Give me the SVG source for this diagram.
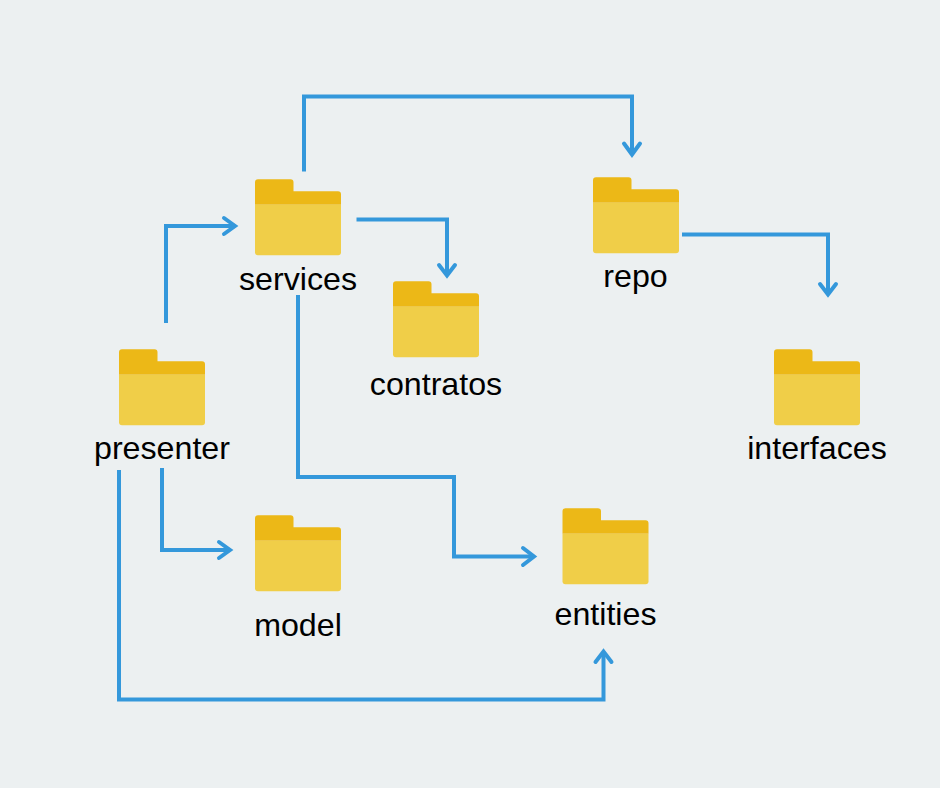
<svg xmlns="http://www.w3.org/2000/svg" width="940" height="788" viewBox="0 0 940 788">
<style>
.t{font-family:"Liberation Sans",Arial,sans-serif;font-size:32.200px;fill:#000;text-anchor:middle}
.c{fill:none;stroke:#3498db;stroke-width:4;stroke-linejoin:miter}
.h{fill:none;stroke:#3498db;stroke-width:4;stroke-linecap:round;stroke-linejoin:miter}
</style>
<defs>
<g id="folder">
<path d="M0 25.500V3Q0 0 3 0H35.500Q38.500 0 38.500 3V12H83Q86 12 86 15V25.500Z" fill="#ecb817"/>
<path d="M0 25.500H86V73Q86 76 83 76H3Q0 76 0 73Z" fill="#f0ce48"/>
</g>
</defs>
<rect width="940" height="788" fill="#ecf0f1"/>
<g id="connectors">
<path class="c" d="M166 323V226H233"/><path class="h" d="M224 218L235 226L224 234"/>
<path class="c" d="M304 171.500V96.500H632V152"/><path class="h" d="M624 143.500L632 154.500L640 143.500"/>
<path class="c" d="M356.500 219.500H447V273"/><path class="h" d="M439 265L447 275.500L455 265"/>
<path class="c" d="M682 234.500H828V292"/><path class="h" d="M820 284L828 294.500L836 284"/>
<path class="c" d="M298 295V477H454V556.500H532"/><path class="h" d="M523 548L534 556.500L523 565"/>
<path class="c" d="M162 468V550H228"/><path class="h" d="M219 542L230 550L219 558"/>
<path class="c" d="M119 470V699.500H603.500V653"/><path class="h" d="M595.500 662L603.500 651.500L611.500 662"/>
</g>
<g id="services"><use href="#folder" x="255" y="179.300"/><text class="t" x="298" y="290">services</text></g>
<g id="repo"><use href="#folder" x="593" y="177.300"/><text class="t" x="635.500" y="287">repo</text></g>
<g id="contratos"><use href="#folder" x="393" y="281.300"/><text class="t" x="436" y="395">contratos</text></g>
<g id="presenter"><use href="#folder" x="119" y="349.300"/><text class="t" x="162" y="459">presenter</text></g>
<g id="interfaces"><use href="#folder" x="774" y="349.300"/><text class="t" x="817" y="459">interfaces</text></g>
<g id="model"><use href="#folder" x="255" y="515.300"/><text class="t" x="298" y="636">model</text></g>
<g id="entities"><use href="#folder" x="562.500" y="508.300"/><text class="t" x="605.500" y="625">entities</text></g>
</svg>
